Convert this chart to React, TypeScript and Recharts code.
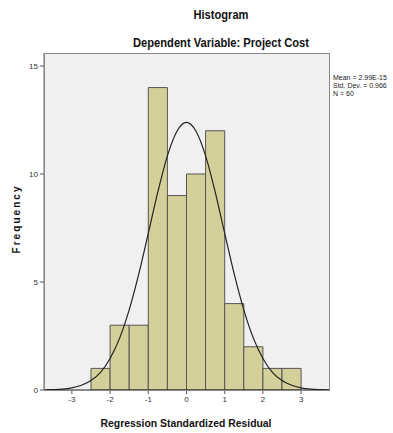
import {
  ComposedChart, Line, XAxis, YAxis, CartesianGrid, ReferenceArea,
} from "recharts";

// histogram bins (regression standardized residual)
const binStarts = [-2.5, -2, -1.5, -1, -0.5, 0, 0.5, 1, 1.5, 2, 2.5];
const binEnds = [-2, -1.5, -1, -0.5, 0, 0.5, 1, 1.5, 2, 2.5, 3];
const binCounts = [1, 3, 3, 14, 9, 10, 12, 4, 2, 1, 1];

// normal curve
const curveX = [
  -3.75, -3.5, -3.25, -3, -2.75, -2.5, -2.25, -2, -1.75, -1.5, -1.25, -1, -0.75, -0.5, -0.25,
  0, 0.25, 0.5, 0.75, 1, 1.25, 1.5, 1.75, 2, 2.25, 2.5, 2.75, 3, 3.25, 3.5, 3.75,
];
const curveY = [
  0.01, 0.02, 0.04, 0.1, 0.22, 0.44, 0.82, 1.46, 2.4, 3.71, 5.36, 7.25, 9.17, 10.84, 11.98,
  12.39, 11.98, 10.84, 9.17, 7.25, 5.36, 3.71, 2.4, 1.46, 0.82, 0.44, 0.22, 0.1, 0.04, 0.02, 0.01,
];

const xTicks = [-3, -2, -1, 0, 1, 2, 3];
const yTicks = [0, 5, 10, 15];
const statLines = ["Mean = 2.99E-15", "Std. Dev. = 0.966", "N = 60"];

const curveData = curveX.map((x, i) => ({ x, y: curveY[i] }));

const font = "'Liberation Sans', Arial, sans-serif";

export default function App() {
  return (
    <div style={{ position: "absolute", left: 0, top: 0, width: 393, height: 433, background: "#fff", fontFamily: font }}>
      <ComposedChart
        width={393}
        height={433}
        data={curveData}
        margin={{ top: 53, right: 64, bottom: 23, left: 29 }}
      >
        <CartesianGrid fill="#f0f0f0" horizontal={false} vertical={false} />
        <XAxis
          dataKey="x"
          type="number"
          domain={[-3.73, 3.73]}
          ticks={xTicks}
          allowDataOverflow
          height={20}
          tickSize={4}
          stroke="#222"
          tickLine={{ stroke: "#555" }}
          tick={{ fontSize: 8, fill: "#333", fontFamily: font }}
        />
        <YAxis
          type="number"
          domain={[0, 15.6]}
          ticks={yTicks}
          width={15}
          tickSize={4}
          stroke="#666"
          tickLine={{ stroke: "#555" }}
          tick={{ fontSize: 8, fill: "#333", fontFamily: font }}
        />
        {binStarts.map((s, i) => (
          <ReferenceArea
            key={i}
            x1={s}
            x2={binEnds[i]}
            y1={0}
            y2={binCounts[i]}
            fill="#d4d09a"
            fillOpacity={1}
            stroke="#555"
            strokeWidth={1}
          />
        ))}
        <Line
          dataKey="y"
          type="monotone"
          stroke="#222"
          strokeWidth={1.2}
          dot={false}
          isAnimationActive={false}
        />
      </ComposedChart>
      <div
        style={{
          position: "absolute", left: 44, top: 53, width: 284, height: 336,
          border: "1px solid #888", pointerEvents: "none",
        }}
      />
      <svg width={393} height={433} style={{ position: "absolute", left: 0, top: 0, pointerEvents: "none" }}>
        <text x={221} y={19} textAnchor="middle" fontSize={12} fontWeight="bold" fill="#111" fontFamily={font}
          textLength={55} lengthAdjust="spacingAndGlyphs">Histogram</text>
        <text x={221} y={47} textAnchor="middle" fontSize={12} fontWeight="bold" fill="#111" fontFamily={font}
          textLength={176} lengthAdjust="spacingAndGlyphs">Dependent Variable: Project Cost</text>
        <text x={186} y={427} textAnchor="middle" fontSize={11} fontWeight="bold" fill="#111" fontFamily={font}
          textLength={171} lengthAdjust="spacingAndGlyphs">Regression Standardized Residual</text>
        <text x={20} y={220} textAnchor="middle" fontSize={10} fontWeight="bold" fill="#111" fontFamily={font}
          transform="rotate(-90 20 220)" textLength={67} lengthAdjust="spacing">Frequency</text>
        {statLines.map((t, i) => (
          <text key={t} x={333} y={80 + i * 8} fontSize={7} fill="#222" fontFamily={font}>{t}</text>
        ))}
      </svg>
    </div>
  );
}
